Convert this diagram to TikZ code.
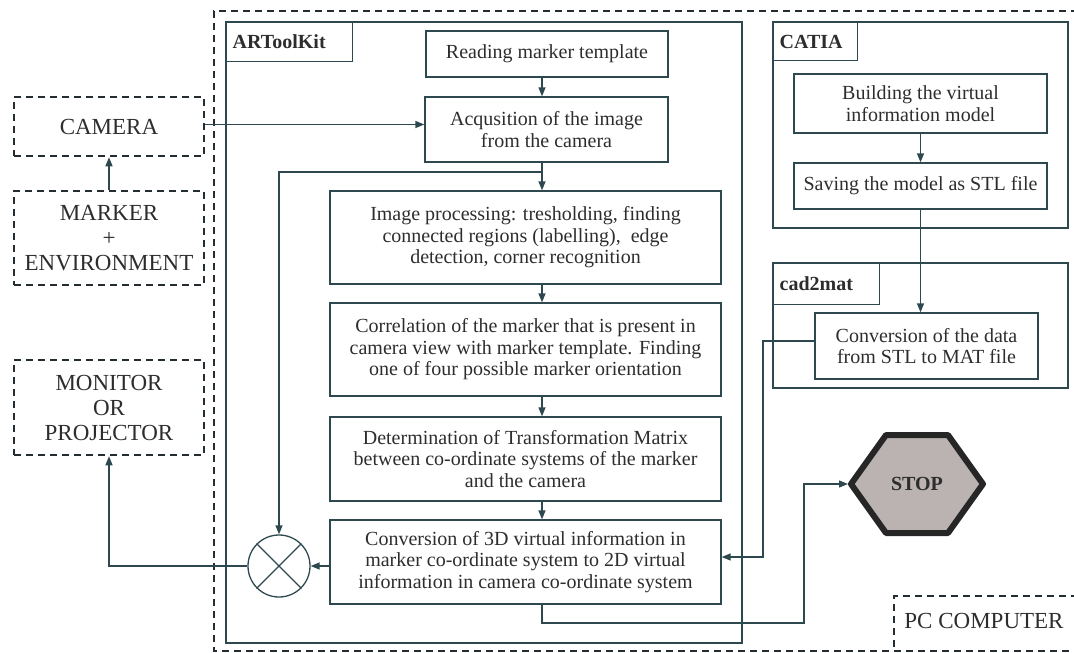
\documentclass[tikz,border=0pt]{standalone}
\usepackage{fontspec}
\setmainfont{Liberation Serif}
\usetikzlibrary{arrows.meta,calc}
\definecolor{lc}{RGB}{45,72,78}
\definecolor{dc}{RGB}{35,45,50}
\definecolor{tc}{RGB}{45,45,45}
\definecolor{hexfill}{RGB}{186,179,177}
\definecolor{hexline}{RGB}{38,38,38}
\begin{document}
\begin{tikzpicture}[x=1pt,y=-1pt,
  box/.style={draw=lc, line width=1.3pt, inner sep=0pt, align=center, text=tc, font=\fontsize{20}{21.5}\selectfont},
  ext/.style={draw=dc, line width=2.5pt, dash pattern=on 7pt off 5pt, inner sep=0pt, align=center, text=tc, font=\fontsize{23}{25}\selectfont},
  lbl/.style={draw=lc, line width=1.3pt, anchor=north west, inner xsep=6pt, inner ysep=0pt, align=left, text=tc, font=\bfseries\fontsize{20}{22}\selectfont},
  arr/.style={draw=lc, line width=1.3pt, -{Triangle[length=9pt,width=7pt]}},
  ln/.style={draw=lc, line width=1.3pt},
  pcdash/.style={draw=dc, line width=2.5pt, dash pattern=on 7pt off 5pt}]
\useasboundingbox (0,0) rectangle (1074,653);

% outer PC frame
\draw[pcdash] (1090,11) -- (214,11) -- (214,651) -- (1090,651);
\draw[pcdash] (1090,596) -- (894,596) -- (894,651);
\node[font=\fontsize{23}{25}\selectfont, text=tc] (pc) at (984,621) {PC COMPUTER};

% ARToolKit group
\node[box, minimum width=516pt, minimum height=621pt] (art) at (484,332.5) {};
\node[lbl, text width=114pt, minimum height=39pt] (artlbl) at (226,22) {ARToolKit};
\node[box, minimum width=242pt, minimum height=46pt] (read) at (547,54) {Reading marker template};
\node[box, minimum width=243pt, minimum height=65pt] (acq) at (546.5,129.5) {Acqusition of the image\\from the camera};
\node[box, minimum width=391pt, minimum height=93pt] (imgp) at (525.5,237.5) {Image processing: tresholding, finding\\connected regions (labelling),\ \ edge\\detection, corner recognition};
\node[box, minimum width=391pt, minimum height=93pt] (corr) at (525.5,349.5) {Correlation of the marker that is present in\\camera view with marker template. Finding\\one of four possible marker orientation};
\node[box, minimum width=391pt, minimum height=84pt] (det) at (525.5,459) {Determination of Transformation Matrix\\between co-ordinate systems of the marker\\and the camera};
\node[box, minimum width=391pt, minimum height=84pt] (conv) at (525.5,562) {Conversion of 3D virtual information in\\marker co-ordinate system to 2D virtual\\information in camera co-ordinate system};
\node[circle, draw=lc, line width=1.3pt, minimum size=62pt, inner sep=0pt] (mix) at (279,566) {};
\draw[ln] (mix.45) -- (mix.225) (mix.135) -- (mix.315);

% external devices
\node[ext, minimum width=190pt, minimum height=59pt] (camera) at (109,126.5) {CAMERA};
\node[ext, minimum width=190pt, minimum height=94pt] (marker) at (109,238) {MARKER\\+\\ENVIRONMENT};
\node[ext, minimum width=190pt, minimum height=95pt] (monitor) at (109,407.5) {MONITOR\\OR\\PROJECTOR};

% CATIA group
\node[box, minimum width=295pt, minimum height=206pt] (catia) at (920.5,125) {};
\node[lbl, text width=72pt, minimum height=38pt] (catlbl) at (773,22) {CATIA};
\node[box, minimum width=253pt, minimum height=59pt] (build) at (920.5,103.5) {Building the virtual\\information model};
\node[box, minimum width=253pt, minimum height=46pt] (save) at (920.5,186) {Saving the model as STL file};

% cad2mat group
\node[box, minimum width=295pt, minimum height=125pt] (cad) at (920.5,325.5) {};
\node[lbl, text width=94pt, minimum height=41pt] (cadlbl) at (773,263) {cad2mat};
\node[box, minimum width=223pt, minimum height=66pt] (cdata) at (926.5,346) {Conversion of the data\\from STL to MAT file};

% STOP hexagon
\draw[hexline, fill=hexfill, line width=6pt, line join=round] (851,484) -- (886,435) -- (948,435) -- (983,484) -- (948,533) -- (886,533) -- cycle;
\node[font=\bfseries\fontsize{20}{22}\selectfont, text=tc] (stop) at (917,484) {STOP};
\coordinate (stopw) at (848,484);

% connectors
\coordinate (ax) at (542,0);
\draw[arr] (read.south -| ax) -- (acq.north -| ax);
\draw[arr] (acq.south -| ax) -- (imgp.north -| ax);
\coordinate (br) at (542,172);
\draw[arr] (br) -| (mix.north);
\draw[arr] (imgp.south -| ax) -- (corr.north -| ax);
\draw[arr] (corr.south -| ax) -- (det.north -| ax);
\draw[arr] (det.south -| ax) -- (conv.north -| ax);
\draw[arr] (conv.west |- mix.east) -- (mix.east);
\draw[arr] (mix.west) -| (monitor.south);
\draw[arr] (marker.north) -- (camera.south);
\draw[arr] ([yshift=2pt]camera.east) -- ([yshift=2pt]camera.east -| acq.west);
\draw[arr] (build.south) -- (save.north);
\draw[arr] (save.south) -- (save.south |- cdata.north);
\coordinate (j1) at (763,557);
\draw[arr] ([yshift=5pt]cdata.west) -| (j1) -- (j1 -| conv.east);
\coordinate (j2) at (804,623);
\draw[arr] (conv.south -| ax) |- (j2) |- (stopw);
\end{tikzpicture}
\end{document}
